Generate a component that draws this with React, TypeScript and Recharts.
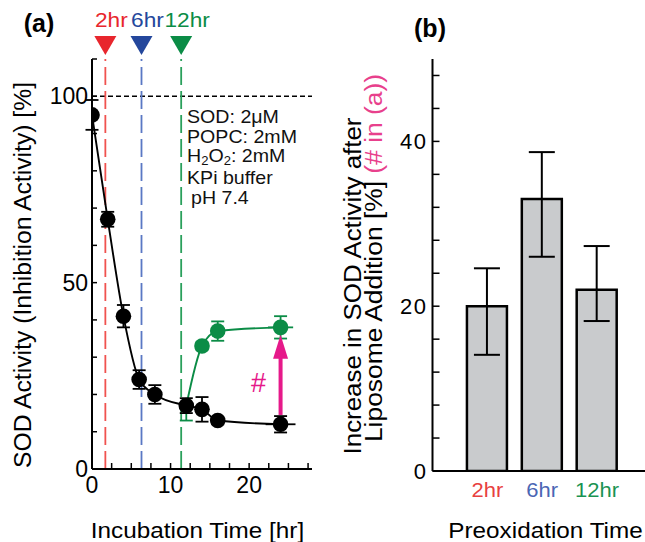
import React from 'react';
import {
  ComposedChart, Line, Scatter, Bar, XAxis, YAxis, ErrorBar, ReferenceLine, ReferenceDot,
} from 'recharts';

const FONT = '"Liberation Sans", Arial, Helvetica, sans-serif';

// ---------- Panel (a) data ----------
const incubationTimes = [0, 2, 4, 6, 8, 12, 14, 16, 24];
const sodActivity = [95, 67, 41, 24, 20, 17, 16, 13, 12];
const sodError = [4, 2, 3, 2.5, 2.5, 2, 3.3, 1, 2.2];
const sodTimeError = [0, 0, 0, 0, 0, 0, 0, 0, 1.9];

const liposomeTimes = [12, 14, 16, 24];
const liposomeActivity = [17, 33, 37, 38];
const liposomeError: (number | number[])[] = [[4, 0], 1, 2.6, 3];
const liposomeTimeError = [0, 0, 0, 1.6];
const liposomeMarker = [false, true, true, true];

const preoxMarks = [1.7, 6.3, 11.35];
const preoxLabels = ['2hr', '6hr', '12hr'];
const preoxColors = ['#e8262d', '#24479c', '#0b8c46'];
const preoxLineColors = ['#f0524f', '#5a78c4', '#2aa05c'];
const preoxTickColors = ['#e8403f', '#4a66b4', '#1a9352'];

const arrowTime = 24;
const arrowFrom = 14.5;
const arrowShaftTo = 30;
const arrowTip = 36;

const xTicksA = [0, 2.5, 5, 7.5, 10, 12.5, 15, 17.5, 20, 22.5, 25, 27.5];
const xLabelsA = [0, 10, 20];
const yTicksA = [0, 10, 20, 30, 40, 50, 60, 70, 80, 90, 100, 110];
const yLabelsA = [0, 50, 100];

// ---------- Panel (b) data ----------
const preoxIncrease = [20, 33, 22];
const preoxErrLow = [5.9, 7, 3.8];
const preoxErrHigh = [4.6, 5.7, 5.3];
const barPositions = [1, 2, 3];
const minorBarTicks = [0.5, 1.5, 2.5, 3.5];
const yTicksB = [0, 4, 8, 12, 16, 20, 24, 28, 32, 36, 40, 44, 48];
const yLabelsB = [0, 20, 40];
const yRightTicksB = [0, 20, 40];

const blackData = incubationTimes.map((t, i) => ({
  t, v: sodActivity[i], e: sodError[i], xe: sodTimeError[i],
}));
const greenData = liposomeTimes.map((t, i) => ({
  t, v: liposomeActivity[i], e: liposomeError[i], xe: liposomeTimeError[i], m: liposomeMarker[i],
}));
const barData = barPositions.map((pos, i) => ({
  pos, val: preoxIncrease[i], err: [preoxErrLow[i], preoxErrHigh[i]],
}));

const AX = { stroke: '#000', strokeWidth: 2 };
const TL = { stroke: '#000', strokeWidth: 1.5 };
const TICKA = { fontSize: 23, fill: '#000', fontFamily: FONT };
const TICKB = { fontSize: 22, fill: '#000', fontFamily: FONT, letterSpacing: 1.5 };

const BlackDot = (p: any) => <circle cx={p.cx} cy={p.cy} r={7.8} fill="#000" />;
const GreenDot = (p: any) => {
  const m = p.payload ? p.payload.m : p.m;
  if (!m) return <g />;
  return <circle cx={p.cx} cy={p.cy} r={7.8} fill="#0b8c46" />;
};

const makeMarker = (i: number) => (props: any) => {
  const vb = props.viewBox || {};
  const x = vb.x;
  const top = vb.y;
  if (x == null || top == null) return null;
  return (
    <g>
      <polygon points={`${x - 11},${top - 23} ${x + 11},${top - 23} ${x},${top - 4}`} fill={preoxColors[i]} />
      <text transform={`translate(${x + 6},${top - 32}) scale(1.08,1)`} textAnchor="middle" fontSize={21}
        fontFamily={FONT} fill={preoxColors[i]}>
        {preoxLabels[i]}
      </text>
    </g>
  );
};

const ArrowHead = (p: any) => (
  <polygon points={`${p.cx},${p.cy} ${p.cx - 7.5},${p.cy + 24} ${p.cx + 7.5},${p.cy + 24}`} fill="#e6198a" />
);

const PreoxTick = (props: any) => {
  const { x, y, index } = props;
  return (
    <text transform={`translate(${x},${y}) scale(1.1,1)`} dy="0.71em" textAnchor="middle" fontSize={20}
      fontFamily={FONT} fill={preoxTickColors[index]}>
      {preoxLabels[index]}
    </text>
  );
};

function PanelA() {
  return (
    <ComposedChart width={330} height={542} margin={{ top: 59, right: 18, bottom: 43, left: 42 }}>
      <XAxis xAxisId="b" dataKey="t" type="number" domain={[0, 28]} ticks={xTicksA} interval={0}
        allowDataOverflow tickFormatter={(v: number) => (xLabelsA.includes(v) ? String(v) : '')}
        tickSize={-6} tickMargin={14} height={30} axisLine={AX} tickLine={TL} tick={TICKA} />
      <XAxis xAxisId="t" orientation="top" type="number" domain={[0, 28]} ticks={xTicksA} interval={0}
        allowDataOverflow tickFormatter={() => ''} tickSize={-6} height={0} axisLine={AX} tickLine={TL} />
      <YAxis yAxisId="l" type="number" domain={[0, 110]} ticks={yTicksA} interval={0} allowDataOverflow
        tickFormatter={(v: number) => (yLabelsA.includes(v) ? String(v) : '')}
        tickSize={-5} tickMargin={9} width={50} axisLine={AX} tickLine={TL} tick={TICKA} />
      <YAxis yAxisId="r" orientation="right" type="number" domain={[0, 110]} ticks={yTicksA} interval={0}
        allowDataOverflow tickFormatter={() => ''} tickSize={-5} width={0} axisLine={AX} tickLine={TL} />

      <ReferenceLine xAxisId="b" yAxisId="l" y={100} stroke="#000" strokeWidth={1.5} strokeDasharray="5 3" />
      {preoxMarks.map((x, i) => (
        <ReferenceLine key={'pm' + i} xAxisId="b" yAxisId="l" x={x} stroke={preoxLineColors[i]}
          strokeWidth={1.8} strokeDasharray="18 6" label={makeMarker(i)} />
      ))}

      <Line xAxisId="b" yAxisId="l" data={blackData} dataKey="v" type="monotone" stroke="#000"
        strokeWidth={1.9} dot={false} activeDot={false} isAnimationActive={false} />
      <Line xAxisId="b" yAxisId="l" data={greenData} dataKey="v" type="monotone" stroke="#0b8c46"
        strokeWidth={1.9} dot={false} activeDot={false} isAnimationActive={false} />

      <Scatter xAxisId="b" yAxisId="l" data={greenData} dataKey="v" shape={GreenDot} isAnimationActive={false}>
        <ErrorBar dataKey="e" direction="y" width={6.5} stroke="#0b8c46" strokeWidth={1.8} />
        <ErrorBar dataKey="xe" direction="x" width={0} stroke="#0b8c46" strokeWidth={1.8} />
      </Scatter>
      <Scatter xAxisId="b" yAxisId="l" data={blackData} dataKey="v" shape={BlackDot} isAnimationActive={false}>
        <ErrorBar dataKey="e" direction="y" width={6.5} stroke="#000" strokeWidth={1.8} />
        <ErrorBar dataKey="xe" direction="x" width={0} stroke="#000" strokeWidth={1.8} />
      </Scatter>

      <ReferenceLine xAxisId="b" yAxisId="l"
        segment={[{ x: arrowTime, y: arrowFrom }, { x: arrowTime, y: arrowShaftTo }]}
        stroke="#e6198a" strokeWidth={4} />
      <ReferenceDot xAxisId="b" yAxisId="l" x={arrowTime} y={arrowTip} shape={ArrowHead} />
    </ComposedChart>
  );
}

function PanelB() {
  return (
    <ComposedChart width={330} height={542} data={barData} margin={{ top: 59, right: 8, bottom: 41, left: 42.5 }}>
      <XAxis xAxisId="xb" dataKey="pos" type="number" domain={[0, 4]} ticks={barPositions} interval={0}
        allowDataOverflow tickLine={false} tickSize={6} tickMargin={6} height={30} axisLine={AX}
        tick={(p: any) => <PreoxTick {...p} />} />
      <XAxis xAxisId="xt" orientation="top" type="number" domain={[0, 4]} ticks={barPositions} interval={0}
        allowDataOverflow tickFormatter={() => ''} tickSize={-10} height={0} axisLine={AX} tickLine={TL} />
      <XAxis xAxisId="xt2" orientation="top" type="number" domain={[0, 4]} ticks={minorBarTicks} interval={0}
        allowDataOverflow tickFormatter={() => ''} tickSize={-5} height={0} axisLine={false} tickLine={TL} />
      <YAxis yAxisId="yl" type="number" domain={[0, 50]} ticks={yTicksB} interval={0} allowDataOverflow
        tickFormatter={(v: number) => (yLabelsB.includes(v) ? String(v) : '')}
        tickSize={-7} tickMargin={12} width={60} axisLine={AX} tickLine={TL} tick={TICKB} />
      <YAxis yAxisId="yr" orientation="right" type="number" domain={[0, 50]} ticks={yRightTicksB} interval={0}
        allowDataOverflow tickFormatter={() => ''} tickSize={-10} width={0} axisLine={AX} tickLine={TL} />
      <Bar xAxisId="xb" yAxisId="yl" dataKey="val" barSize={40} fill="#c9cbcd" stroke="#000"
        strokeWidth={2.5} isAnimationActive={false}>
        <ErrorBar dataKey="err" direction="y" width={13} stroke="#000" strokeWidth={2} />
      </Bar>
    </ComposedChart>
  );
}

export default function App() {
  return (
    <div style={{ position: 'fixed', left: 0, top: 0, width: 645, height: 542, overflow: 'hidden',
      background: '#fff', fontFamily: FONT }}>
      <div style={{ position: 'absolute', left: 0, top: 0 }}><PanelA /></div>
      <div style={{ position: 'absolute', left: 330, top: 0 }}><PanelB /></div>
      <svg width={645} height={542} style={{ position: 'absolute', left: 0, top: 0, pointerEvents: 'none' }}
        fontFamily={FONT}>
        <text x={39} y={32} fontSize={25} fontWeight="bold" textAnchor="middle">(a)</text>
        <text x={430} y={37} fontSize={25} fontWeight="bold" textAnchor="middle">(b)</text>
        <text transform="translate(31,275) rotate(-90) scale(1.01,1)" textAnchor="middle" fontSize={24.5}>
          SOD Activity (Inhibition Activity) [%]
        </text>
        <text transform="translate(197.5,538) scale(1.13,1)" textAnchor="middle" fontSize={21.5}>
          Incubation Time [hr]
        </text>
        <text transform="translate(545.5,538) scale(1.13,1)" textAnchor="middle" fontSize={21.5}>
          Preoxidation Time
        </text>
        <text transform="translate(361,286) rotate(-90) scale(1.08,1)" textAnchor="middle" fontSize={24}>
          Increase in SOD Activity after
        </text>
        <text transform="translate(382,258) rotate(-90) scale(1.1,1)" textAnchor="middle" fontSize={24}>
          Liposome Addition [%] <tspan fill="#e8408c">(# in (a))</tspan>
        </text>
        <g fontSize={18} fill="#111">
          <text transform="translate(187,123) scale(1.09,1)">SOD: 2μM</text>
          <text transform="translate(187,143) scale(1.09,1)">POPC: 2mM</text>
          <text transform="translate(187,162) scale(1.09,1)">H<tspan fontSize={12} dy={3}>2</tspan><tspan dy={-3}>O</tspan><tspan fontSize={12} dy={3}>2</tspan><tspan dy={-3}>: 2mM</tspan></text>
          <text transform="translate(187,184) scale(1.09,1)">KPi buffer</text>
          <text transform="translate(191,204) scale(1.09,1)">pH 7.4</text>
        </g>
        <text x={258.5} y={392} fill="#e6198a" fontSize={27} textAnchor="middle">#</text>
      </svg>
    </div>
  );
}
